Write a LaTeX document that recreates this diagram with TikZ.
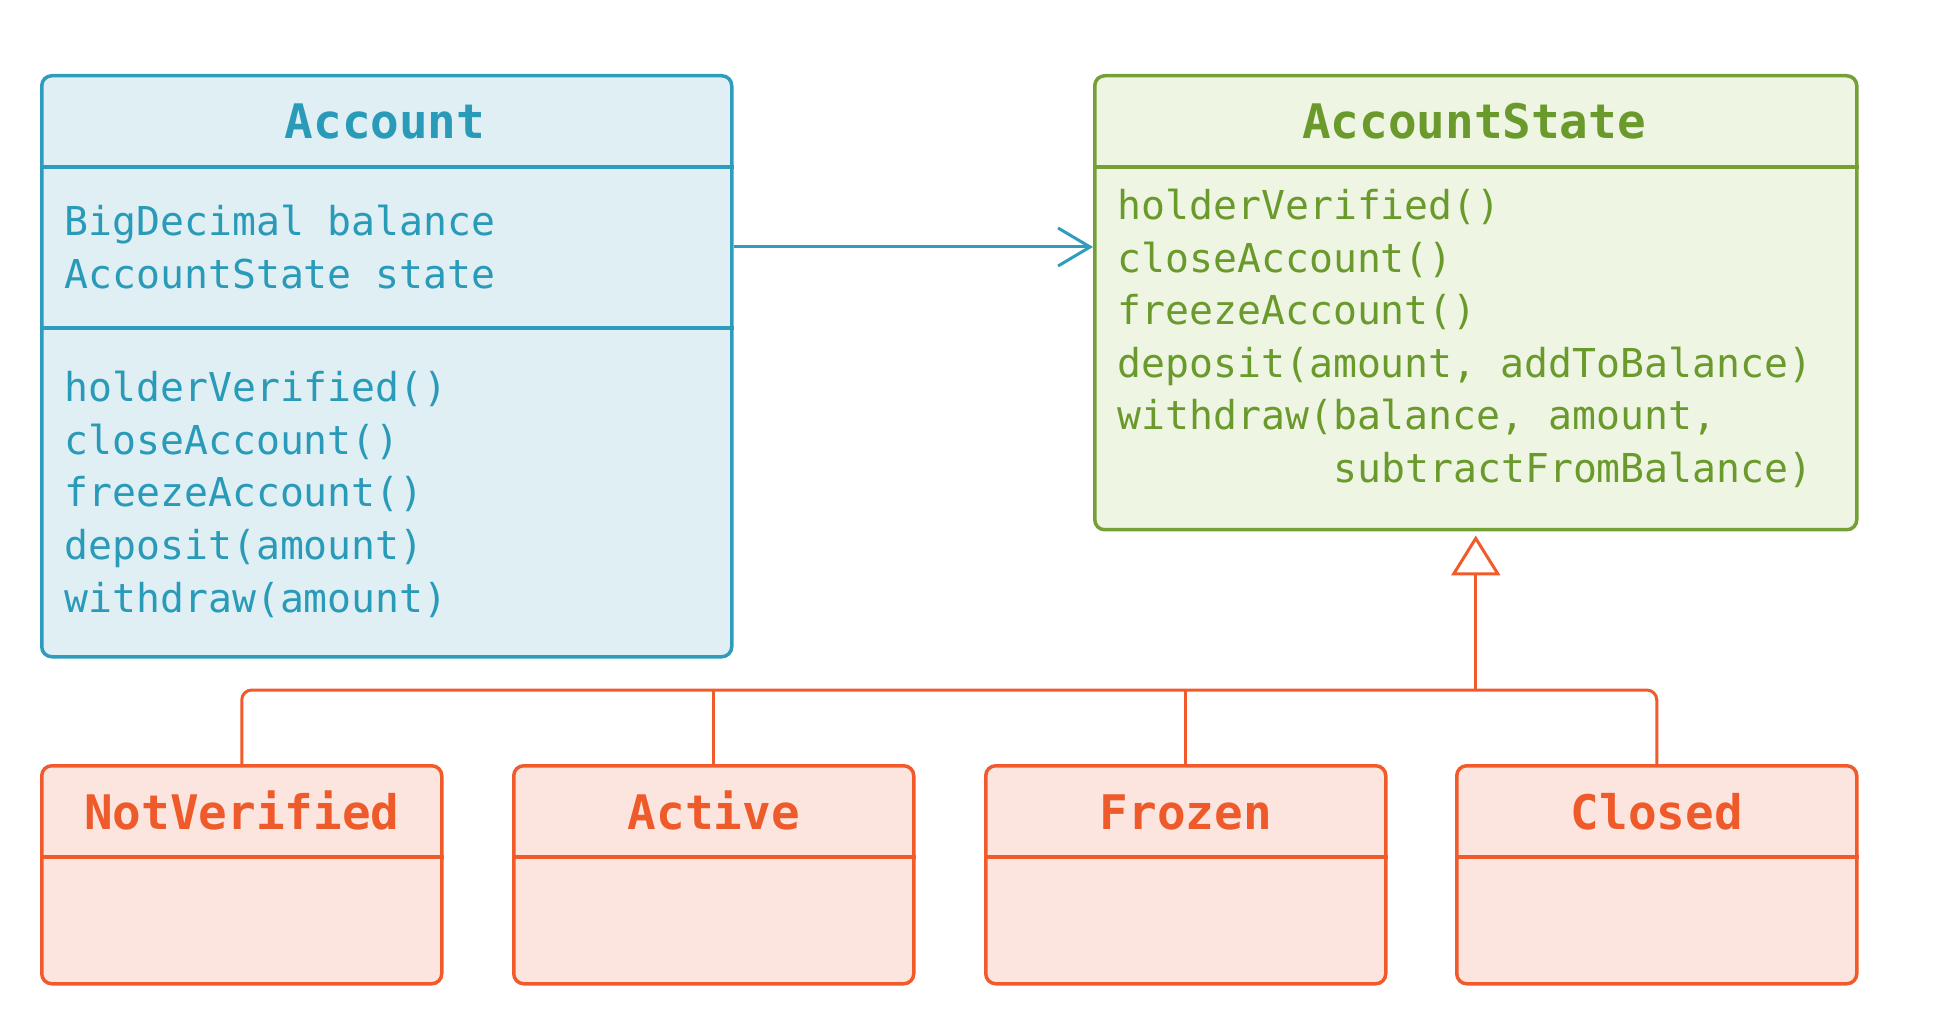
\documentclass[tikz,border=0pt]{standalone}
\usepackage{fontspec}
\newfontfamily\umlmono{DejaVu Sans Mono}
\usetikzlibrary{arrows.meta}
\definecolor{bstroke}{HTML}{2E9CBD}
\definecolor{bfill}{HTML}{DFEFF4}
\definecolor{btext}{HTML}{2A9AB9}
\definecolor{gstroke}{HTML}{74A036}
\definecolor{gfill}{HTML}{EEF5E3}
\definecolor{gtext}{HTML}{6B9A2C}
\definecolor{ostroke}{HTML}{F15A2B}
\definecolor{ofill}{HTML}{FCE5DF}
\definecolor{otext}{HTML}{EE5A2A}
\begin{document}
\begin{tikzpicture}[x=0.5pt,y=-0.5pt,
  box/.style={draw, line width=1.75pt, rounded corners=5pt, anchor=north west, inner sep=0pt},
  bluebox/.style={box, draw=bstroke, fill=bfill},
  greenbox/.style={box, draw=gstroke, fill=gfill},
  orangebox/.style={box, draw=ostroke, fill=ofill, minimum width=200pt, minimum height=109pt},
  titletext/.style={font=\umlmono\bfseries\fontsize{23.8}{28}\selectfont, anchor=base, inner sep=0pt},
  bodytext/.style={font=\umlmono\fontsize{19.9}{24}\selectfont, anchor=base west, inner sep=0pt},
  divider/.style={line width=1.75pt},
  conn/.style={line width=1.5pt},
  ]
\useasboundingbox (0,0) rectangle (1952,1020);

% helper coordinates
\coordinate (yhead) at (0,167);
\coordinate (yattr) at (0,328);
\coordinate (yassoc) at (0,247);
\coordinate (ybus) at (0,690);
\coordinate (ysub) at (0,857);

% Account
\node[bluebox, minimum width=345pt, minimum height=290.5pt] (account) at (40,74) {};
\draw[divider, bstroke] (account.west |- yhead) -- (account.east |- yhead);
\draw[divider, bstroke] (account.west |- yattr) -- (account.east |- yattr);
\node[titletext, text=btext] (accTitle) at (385,139) {Account};
\node[bodytext, text=btext] (accA1) at (64,236) {BigDecimal balance};
\node[bodytext, text=btext] (accA2) at (64,288.5) {AccountState state};
\foreach \t [count=\i] in {holderVerified(), closeAccount(), freezeAccount(), deposit(amount), withdraw(amount)}
  \node[bodytext, text=btext] (accM\i) at (64,{402+52.5*(\i-1)}) {\t};

% AccountState
\node[greenbox, minimum width=381pt, minimum height=227pt] (state) at (1093,74) {};
\draw[divider, gstroke] (state.west |- yhead) -- (state.east |- yhead);
\node[titletext, text=gtext] (stTitle) at (1474,139) {AccountState};
\node[bodytext, text=gtext] (stM1) at (1117,220) {holderVerified()};
\node[bodytext, text=gtext] (stM2) at (1117,272.5) {closeAccount()};
\node[bodytext, text=gtext] (stM3) at (1117,325) {freezeAccount()};
\node[bodytext, text=gtext] (stM4) at (1117,377.5) {deposit(amount, addToBalance)};
\node[bodytext, text=gtext] (stM5) at (1117,430) {withdraw(balance, amount,};
\node[bodytext, text=gtext] (stM6) at (1333,482.5) {subtractFromBalance)};

% State subclasses
\node[orangebox] (nv) at (40,764) {};
\node[orangebox] (act) at (512,764) {};
\node[orangebox] (fr) at (984,764) {};
\node[orangebox] (cl) at (1455,764) {};
\foreach \n in {nv,act,fr,cl}
  \draw[divider, ostroke] (\n.west |- ysub) -- (\n.east |- ysub);
\node[titletext, text=otext] (nvTitle) at (nv.north |- 0,829) {NotVerified};
\node[titletext, text=otext] (actTitle) at (act.north |- 0,829) {Active};
\node[titletext, text=otext] (frTitle) at (fr.north |- 0,829) {Frozen};
\node[titletext, text=otext] (clTitle) at (cl.north |- 0,829) {Closed};

% association Account -> AccountState
\draw[conn, bstroke, -{Straight Barb[length=16pt, width=19pt, line width=1.5pt]}]
  (account.east |- yassoc) -- (state.west |- yassoc);

% generalisation
\draw[conn, ostroke, rounded corners=5pt]
  (nv.north) -- (nv.north |- ybus) -- (cl.north |- ybus) -- (cl.north);
\draw[conn, ostroke] (act.north) -- (act.north |- ybus);
\draw[conn, ostroke] (fr.north) -- (fr.north |- ybus);
\draw[conn, ostroke, -{Triangle[open, length=20pt, width=24.5pt, fill=white, line width=1.5pt]}]
  (state.south |- ybus) -- ([yshift=-2pt]state.south);
\end{tikzpicture}
\end{document}
